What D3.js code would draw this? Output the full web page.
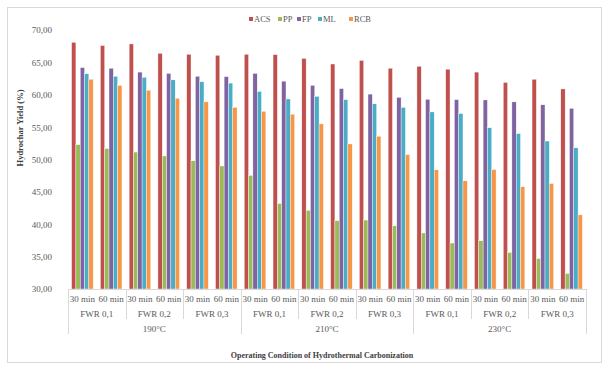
<!DOCTYPE html>
<html lang="en">
<head>
    <meta charset="UTF-8">
    <title>Hydrochar Yield</title>
    <script src="https://d3js.org/d3.v7.min.js"></script>
    <style>
        body { margin: 0; background: #fff; }
        svg text { font-family: "Liberation Serif", "Times New Roman", serif; }
    </style>
</head>
<body>
    <svg id="chart" width="604" height="370"></svg>
    <script>
        // data
        const series = ["ACS", "PP", "FP", "ML", "RCB"];
        const colors = ["#c0504d", "#9bbb59", "#8064a2", "#4bacc6", "#f79646"];
        const temps = ["190°C", "210°C", "230°C"];
        const fwrs = ["FWR 0,1", "FWR 0,2", "FWR 0,3"];
        const times = ["30 min", "60 min"];

        const acs = [68.1, 67.6, 67.85, 66.4, 66.25, 66.1, 66.25, 66.2, 65.6, 64.75, 65.3, 64.1, 64.4, 63.95, 63.5, 61.9, 62.4, 60.9];
        const pp  = [52.3, 51.7, 51.15, 50.55, 49.8, 49.0, 47.55, 43.2, 42.15, 40.55, 40.65, 39.75, 38.65, 37.1, 37.45, 35.65, 34.7, 32.4];
        const fp  = [64.2, 64.1, 63.5, 63.3, 62.85, 62.8, 63.3, 62.1, 61.45, 60.95, 60.1, 59.6, 59.3, 59.25, 59.2, 58.9, 58.45, 57.9];
        const ml  = [63.25, 62.85, 62.7, 62.3, 62.0, 61.8, 60.5, 59.35, 59.75, 59.25, 58.6, 58.05, 57.35, 57.1, 54.9, 54.0, 52.85, 51.8];
        const rcb = [62.4, 61.45, 60.7, 59.45, 58.9, 58.05, 57.45, 57.0, 55.5, 52.4, 53.6, 50.75, 48.4, 46.7, 48.45, 45.8, 46.3, 41.45];
        const values = [acs, pp, fp, ml, rcb];

        const yTicks = [30, 35, 40, 45, 50, 55, 60, 65, 70];

        // build category list: temp / fwr / time
        const cats = [];
        temps.forEach(t => fwrs.forEach(f => times.forEach(m => cats.push({ t, f, m }))));
        const rows = cats.map((c, i) => ({ i, vals: series.map((s, k) => ({ s, k, v: values[k][i] })) }));

        const svg = d3.select("#chart");
        const plotLeft = 68, plotRight = 586, plotTop = 30, plotBottom = 289;

        // chart border
        svg.append("rect")
            .attr("x", 7.5).attr("y", 7.5).attr("width", 594).attr("height", 355)
            .attr("fill", "none").attr("stroke", "#d9d9d9");

        const x0 = d3.scaleBand().domain(d3.range(cats.length)).range([plotLeft, plotRight]);
        const x1 = d3.scaleBand().domain(series).range([x0.bandwidth() * 0.125, x0.bandwidth() * 0.875]);
        const y = d3.scaleLinear().domain([30, 70]).range([plotBottom, plotTop]);

        // y axis labels
        const yAxis = svg.append("g")
            .attr("transform", `translate(${plotLeft - 13},0)`)
            .call(d3.axisLeft(y).tickValues(yTicks).tickSize(0).tickFormat(d => d3.format(".2f")(d).replace(".", ",")));
        yAxis.select(".domain").remove();
        yAxis.selectAll("text")
            .style("font-family", "Liberation Serif, serif")
            .style("font-size", "9px")
            .attr("fill", "#595959");

        // bars
        const groups = svg.append("g").selectAll("g").data(rows).enter().append("g")
            .attr("transform", d => `translate(${x0(d.i)},0)`);
        groups.selectAll("rect").data(d => d.vals).enter().append("rect")
            .attr("x", d => x1(d.s))
            .attr("y", d => y(d.v))
            .attr("width", x1.bandwidth())
            .attr("height", d => plotBottom - y(d.v))
            .attr("fill", d => colors[d.k])
            .attr("stroke", "#fff")
            .attr("stroke-width", 0.4);

        // multi-level category axis
        const axisG = svg.append("g");
        const lineColor = "#d9d9d9";
        axisG.append("line")
            .attr("x1", plotLeft).attr("x2", plotRight).attr("y1", plotBottom + 0.5).attr("y2", plotBottom + 0.5)
            .attr("stroke", lineColor);

        const row1 = 302, row2 = 317, row3 = 332;
        cats.forEach((c, i) => {
            axisG.append("text")
                .attr("x", x0(i) + x0.bandwidth() / 2).attr("y", row1)
                .attr("text-anchor", "middle").attr("font-size", "9px").attr("fill", "#595959")
                .text(c.m);
        });
        const fwrW = x0.bandwidth() * times.length;
        for (let j = 0; j < temps.length * fwrs.length; j++) {
            axisG.append("text")
                .attr("x", plotLeft + fwrW * j + fwrW / 2).attr("y", row2)
                .attr("text-anchor", "middle").attr("font-size", "9px").attr("fill", "#595959")
                .text(fwrs[j % fwrs.length]);
        }
        const tW = fwrW * fwrs.length;
        temps.forEach((t, j) => {
            axisG.append("text")
                .attr("x", plotLeft + tW * j + tW / 2).attr("y", row3)
                .attr("text-anchor", "middle").attr("font-size", "9px").attr("fill", "#595959")
                .text(t);
        });
        // separators
        for (let j = 0; j <= temps.length * fwrs.length; j++) {
            const xx = Math.round(plotLeft + fwrW * j) + 0.5;
            const isTemp = j % fwrs.length === 0;
            axisG.append("line")
                .attr("x1", xx).attr("x2", xx)
                .attr("y1", plotBottom).attr("y2", isTemp ? 334 : 319)
                .attr("stroke", lineColor);
        }

        // axis titles
        svg.append("text")
            .attr("x", 322).attr("y", 358)
            .attr("text-anchor", "middle").attr("font-size", "8px").attr("font-weight", "bold")
            .attr("fill", "#404040")
            .text("Operating Condition of Hydrothermal Carbonization");

        svg.append("text")
            .attr("transform", "translate(23,128) rotate(-90)")
            .attr("text-anchor", "middle").attr("font-size", "8.5px").attr("font-weight", "bold")
            .attr("fill", "#404040")
            .text("Hydrochar Yield (%)");

        // legend
        const legend = svg.append("g").attr("transform", "translate(249,22)");
        const legX = [0, 29, 48, 69, 100];
        series.forEach((s, k) => {
            const g = legend.append("g").attr("transform", `translate(${legX[k]},0)`);
            g.append("rect").attr("x", 0).attr("y", -5).attr("width", 4).attr("height", 4).attr("fill", colors[k]);
            g.append("text").attr("x", 5).attr("y", 0).attr("font-size", "8.5px").attr("fill", "#595959").text(s);
        });
    </script>
</body>
</html>
